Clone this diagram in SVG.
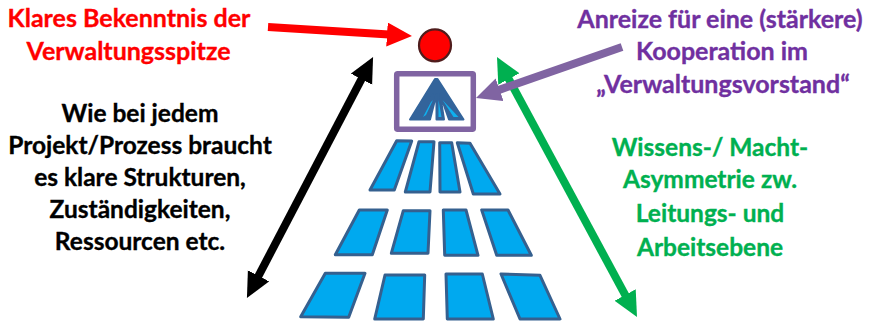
<svg xmlns="http://www.w3.org/2000/svg" width="870" height="321" viewBox="0 0 870 321">
<style>
text{font-family:"Lato","Open Sans",sans-serif;font-weight:700;font-size:24.5px;text-anchor:middle;stroke-width:.35px}
.r{fill:#ff0000;stroke:#ff0000;font-size:25px}.p{fill:#7030a0;stroke:#7030a0;font-size:25px}.k{fill:#000;stroke:#000}.g{fill:#00b050;stroke:#00b050}
.b{fill:#00a9ef;stroke:#35608f;stroke-width:3;stroke-linejoin:round}
.i{fill:#33649b;stroke:#33649b;stroke-width:2;stroke-linejoin:round}
.s{fill:#0fb0ee}
.c{fill:none;stroke-width:8}
</style>
<defs>
<marker id="hr" markerUnits="userSpaceOnUse" markerWidth="26" markerHeight="26" refX="2" refY="12" orient="auto"><path d="M0 0L25 12L0 24Z" fill="#ff0000"/></marker>
<marker id="hp" markerUnits="userSpaceOnUse" markerWidth="26" markerHeight="26" refX="2" refY="12" orient="auto"><path d="M0 0L25 12L0 24Z" fill="#8064a2"/></marker>
<marker id="hk" markerUnits="userSpaceOnUse" markerWidth="26" markerHeight="26" refX="2" refY="12" orient="auto-start-reverse"><path d="M0 0L25 12L0 24Z" fill="#000"/></marker>
<marker id="hg" markerUnits="userSpaceOnUse" markerWidth="26" markerHeight="26" refX="2" refY="12" orient="auto-start-reverse"><path d="M0 0L25 12L0 24Z" fill="#00b050"/></marker>
</defs>
<g id="connectors">
<line class="c" x1="268" y1="27" x2="389" y2="34.6" stroke="#ff0000" marker-end="url(#hr)"/>
<line class="c" x1="257.6" y1="277.6" x2="362.4" y2="77.4" stroke="#000" marker-start="url(#hk)" marker-end="url(#hk)"/>
<line class="c" x1="626.1" y1="296.7" x2="507.9" y2="77.3" stroke="#00b050" marker-start="url(#hg)" marker-end="url(#hg)"/>
<line class="c" x1="622" y1="47" x2="497.7" y2="90.4" stroke="#8064a2" marker-end="url(#hp)"/>
</g>
<g id="node-top"><circle cx="435" cy="45.3" r="16" fill="#ff0000" stroke="#4f1c1c" stroke-width="2.2"/></g>
<g id="node-board">
<rect x="396.7" y="73.7" width="76.6" height="55.6" rx="1" fill="#fff" stroke="#8064a2" stroke-width="5.5"/>
<path class="i" d="M435 79L437.5 79L463.5 119.5L449 119.5L440 94L444 119.5L436.5 119.5L436.5 94L430 119.5L420 119.5L433 94L421 119.5L410 119.5Z"/>
<path class="s" d="M433 100L426 115L423 117L431 102ZM438.5 100L441.5 117L438.5 117ZM442.5 100L458.5 117L453.5 117Z"/>
</g>
<g id="row-1">
<path class="b" d="M396.7 140.7L411.7 141L394.3 190L370 190Z"/>
<path class="b" d="M419 141.7L434 141.7L430 192L405.3 192Z"/>
<path class="b" d="M439.7 142.7L451.7 142.7L460 192L440 192Z"/>
<path class="b" d="M457.3 142.7L470 143.3L500 194L473.3 194Z"/>
</g>
<g id="row-2">
<path class="b" d="M359.3 210L387.3 210L372.3 254.7L335.3 254.7Z"/>
<path class="b" d="M403.3 210.7L430 210.7L428 253.3L391.3 253.3Z"/>
<path class="b" d="M443.3 210L466 210L478 255.3L444.7 255.3Z"/>
<path class="b" d="M481.7 210L508 210L531.3 255.3L496.7 255.3Z"/>
</g>
<g id="row-3">
<path class="b" d="M325.3 273.3L365 273.3L348.7 317.3L300.7 316.7Z"/>
<path class="b" d="M385 275L424.7 275L423.3 319L374.7 319Z"/>
<path class="b" d="M446 274L482.3 274L493.3 319L447.3 319Z"/>
<path class="b" d="M501 274L540 275.3L560 319L520 319Z"/>
</g>
<g id="label-red">
<text class="r" x="129" y="27">Klares Bekenntnis der</text>
<text class="r" x="128.5" y="59.5">Verwaltungsspitze</text>
</g>
<g id="label-purple">
<text class="p" x="720" y="27.5">Anreize für eine (stärkere)</text>
<text class="p" x="722" y="60">Kooperation im</text>
<text class="p" x="723" y="93">„Verwaltungsvorstand“</text>
</g>
<g id="label-black">
<text class="k" x="140" y="122">Wie bei jedem</text>
<text class="k" x="140" y="154">Projekt/Prozess braucht</text>
<text class="k" x="140" y="186">es klare Strukturen,</text>
<text class="k" x="140" y="218">Zuständigkeiten,</text>
<text class="k" x="140" y="250">Ressourcen etc.</text>
</g>
<g id="label-green">
<text class="g" x="710" y="156">Wissens-/ Macht-</text>
<text class="g" x="710" y="188">Asymmetrie zw.</text>
<text class="g" x="710" y="222">Leitungs- und</text>
<text class="g" x="710" y="256">Arbeitsebene</text>
</g>
</svg>
